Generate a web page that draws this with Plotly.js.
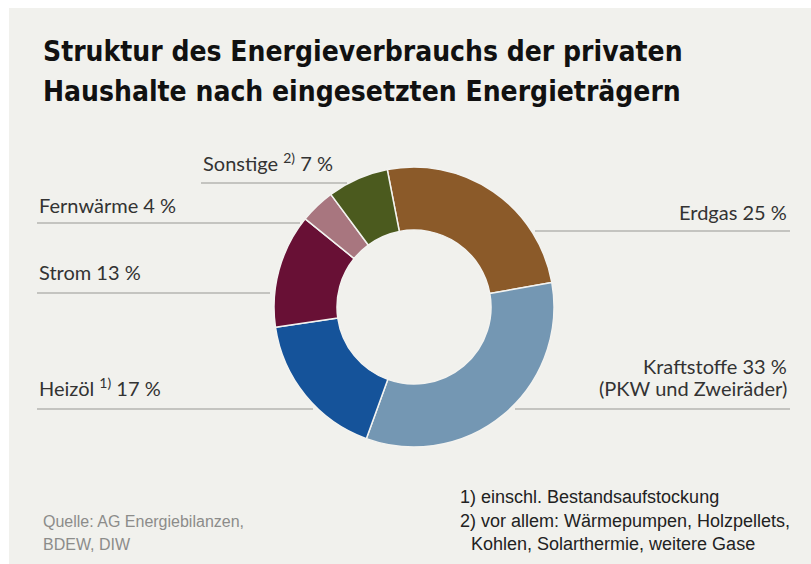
<!DOCTYPE html>
<html>
<head>
<meta charset="utf-8">
<script src="https://cdn.plot.ly/plotly-3.0.1.min.js"></script>
<style>
  html, body { margin: 0; padding: 0; background: #ffffff; }
  #chart { position: absolute; left: 9px; top: 8px; width: 802px; height: 556px; }
</style>
</head>
<body>
<div id="chart"></div>
<script>
// ---- data ----
var categories = ["Erdgas", "Kraftstoffe", "Heizöl", "Strom", "Fernwärme", "Sonstige"];
var shares = [25, 33, 17, 13, 4, 7];
var sliceColors = ["#8b5a29", "#7497b3", "#15539a", "#681035", "#a8767f", "#4b5a1e"];
var labelTexts = [
  "Erdgas 25 %",
  "Kraftstoffe 33 %<br>(PKW und Zweiräder)",
  "Heizöl <sup>1)</sup> 17 %",
  "Strom 13 %",
  "Fernwärme 4 %",
  "Sonstige <sup>2)</sup> 7 %"
];
var titleLines = ["Struktur des Energieverbrauchs der privaten", "Haushalte nach eingesetzten Energieträgern"];
var footnotes = ["1) einschl. Bestandsaufstockung", "2) vor allem: Wärmepumpen, Holzpellets,", "Kohlen, Solarthermie, weitere Gase"];
var sourceLines = ["Quelle: AG Energiebilanzen,", "BDEW, DIW"];

// ---- geometry helpers (pixel -> paper) ----
var W = 802, H = 556, OX = 9, OY = 8;
function X(px) { return (px - OX) / W; }
function Y(py) { return 1 - (py - OY) / H; }

var cx = 414, cy = 307, R = 140;

var trace = {
  type: "pie",
  labels: categories,
  values: shares,
  marker: { colors: sliceColors, line: { color: "#f3f3f0", width: 1.5 } },
  hole: 0.55,
  sort: false,
  direction: "clockwise",
  rotation: -11,
  textinfo: "none",
  hoverinfo: "label+value",
  showlegend: false,
  domain: { x: [X(cx - R), X(cx + R)], y: [Y(cy + R), Y(cy - R)] }
};

var labelFont = { family: "Lato, 'Noto Sans', sans-serif", size: 20, color: "#333333" };
var lineColor = "#b4b4b0";

// label placement: [text index, x, yCenter, anchor, lineY, lineX0, lineX1]
var placements = [
  [0, 789, 212, "right", 231, 535, 790],
  [2, 37, 387, "left", 409, 37, 313],
  [3, 37, 272, "left", 293, 37, 270],
  [4, 37, 205, "left", 223, 37, 300],
  [5, 201, 162, "left", 183, 201, 347]
];

var annotations = [];
var shapes = [];

placements.forEach(function (p) {
  annotations.push({
    xref: "paper", yref: "paper", x: X(p[1]), y: Y(p[2]),
    xanchor: p[3], yanchor: "middle", showarrow: false,
    text: labelTexts[p[0]], font: labelFont, align: p[3]
  });
  shapes.push({
    type: "line", xref: "paper", yref: "paper",
    x0: X(p[5]), x1: X(p[6]), y0: Y(p[4]), y1: Y(p[4]),
    line: { color: lineColor, width: 1.5 }
  });
});

// Kraftstoffe (two lines)
var kLines = labelTexts[1].split("<br>");
annotations.push({ xref: "paper", yref: "paper", x: X(789), y: Y(366), xanchor: "right", yanchor: "middle",
  showarrow: false, text: kLines[0], font: labelFont });
annotations.push({ xref: "paper", yref: "paper", x: X(789), y: Y(388), xanchor: "right", yanchor: "middle",
  showarrow: false, text: kLines[1], font: labelFont });
shapes.push({ type: "line", xref: "paper", yref: "paper", x0: X(515), x1: X(790), y0: Y(409), y1: Y(409),
  line: { color: lineColor, width: 1.5 } });

// title
var titleFont = { family: "'DejaVu Sans Condensed', 'DejaVu Sans', sans-serif", size: 28, color: "#111111", weight: "bold" };
[52, 92].forEach(function (yy, i) {
  annotations.push({ xref: "paper", yref: "paper", x: X(41), y: Y(yy), xanchor: "left", yanchor: "middle",
    showarrow: false, text: "<b>" + titleLines[i] + "</b>", font: titleFont });
});

// footnotes
var noteFont = { family: "'Liberation Sans', Arial, sans-serif", size: 18, color: "#222222" };
var noteX = [458, 458, 469];
[497, 521, 544].forEach(function (yy, i) {
  annotations.push({ xref: "paper", yref: "paper", x: X(noteX[i]), y: Y(yy), xanchor: "left", yanchor: "middle",
    showarrow: false, text: footnotes[i], font: noteFont });
});

// source
var srcFont = { family: "'Liberation Sans', Arial, sans-serif", size: 16, color: "#8c8c8a" };
[521, 544].forEach(function (yy, i) {
  annotations.push({ xref: "paper", yref: "paper", x: X(41), y: Y(yy), xanchor: "left", yanchor: "middle",
    showarrow: false, text: sourceLines[i], font: srcFont });
});

var layout = {
  width: W, height: H,
  margin: { l: 0, r: 0, t: 0, b: 0 },
  paper_bgcolor: "#f1f1ed",
  annotations: annotations,
  shapes: shapes
};

Plotly.newPlot("chart", [trace], layout, { displayModeBar: false, staticPlot: true });
</script>
</body>
</html>
